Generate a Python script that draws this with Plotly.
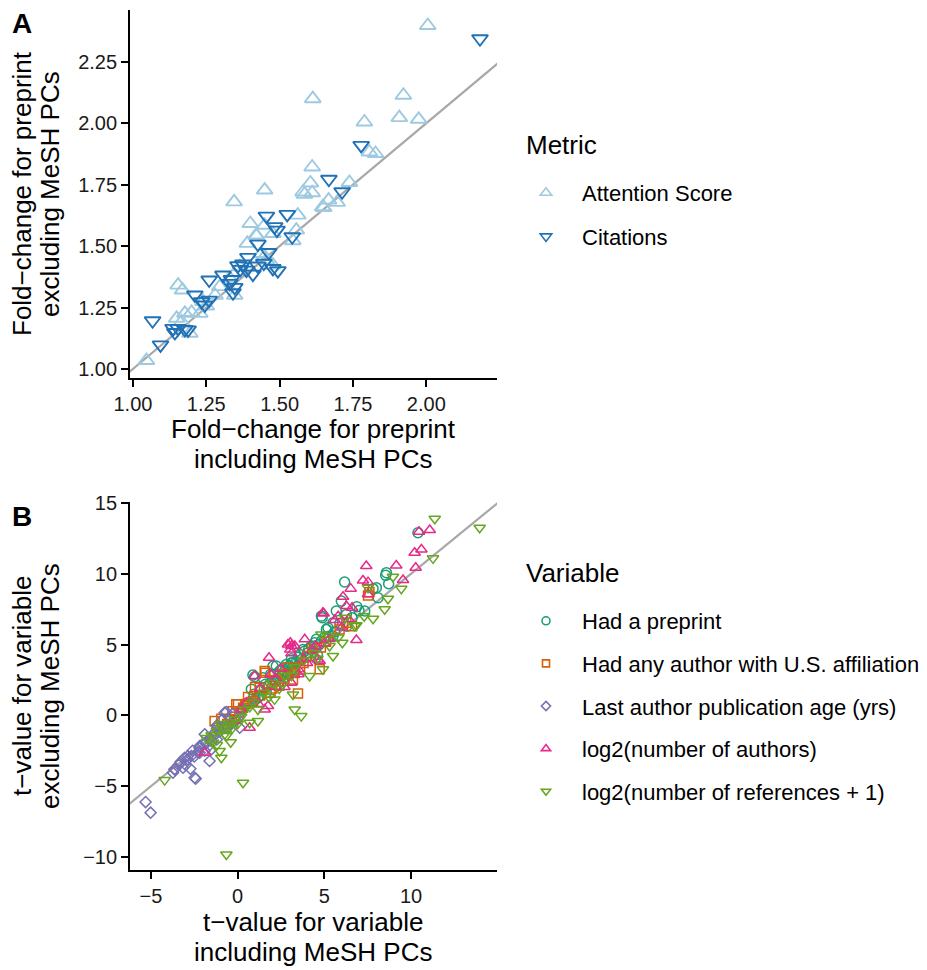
import plotly.graph_objects as go

# ---------------- Panel A data ----------------
attention_x = [2.005, 1.613, 1.922, 1.789, 1.908, 1.974, 1.806, 1.827, 1.611, 1.738,
               1.605, 1.585, 1.611, 1.667, 1.650, 1.696, 1.449, 1.345, 1.400, 1.562,
               1.449, 1.421, 1.477, 1.557, 1.545, 1.390, 1.438, 1.455, 1.477, 1.154,
               1.169, 1.296, 1.347, 1.177, 1.228, 1.250, 1.166, 1.194, 1.046, 1.330,
               1.364, 1.239, 1.149, 1.200, 1.280, 1.449, 1.580, 1.647, 1.420]
attention_y = [2.398, 2.100, 2.114, 2.005, 2.023, 2.016, 1.883, 1.877, 1.822, 1.759,
               1.757, 1.711, 1.717, 1.687, 1.657, 1.678, 1.728, 1.680, 1.592, 1.626,
               1.585, 1.541, 1.551, 1.565, 1.522, 1.511, 1.470, 1.443, 1.423, 1.341,
               1.321, 1.335, 1.300, 1.226, 1.226, 1.256, 1.192, 1.145, 1.034, 1.369,
               1.416, 1.274, 1.206, 1.230, 1.300, 1.457, 1.720, 1.660, 1.545]

citations_x = [2.183, 1.778, 1.668, 1.713, 1.455, 1.526, 1.483, 1.491, 1.543, 1.426,
               1.463, 1.392, 1.358, 1.366, 1.387, 1.409, 1.426, 1.446, 1.477, 1.494,
               1.307, 1.336, 1.347, 1.341, 1.260, 1.211, 1.234, 1.260, 1.245, 1.067,
               1.137, 1.154, 1.177, 1.188, 1.094, 1.143, 1.375, 1.330]
citations_y = [2.344, 1.910, 1.772, 1.721, 1.622, 1.629, 1.579, 1.565, 1.538, 1.508,
               1.474, 1.454, 1.420, 1.405, 1.402, 1.386, 1.419, 1.430, 1.409, 1.400,
               1.382, 1.364, 1.332, 1.310, 1.362, 1.301, 1.274, 1.280, 1.260, 1.196,
               1.165, 1.165, 1.161, 1.159, 1.098, 1.148, 1.427, 1.348]

# ---------------- Panel B data ----------------
preprint_x = [10.40, 8.58, 8.54, 8.71, 8.00, 7.81, 6.17, 5.98, 8.10, 6.88, 7.33, 5.69,
              4.88, 6.27, 5.50, 5.12, 4.54, 3.77, 2.04, 0.98, 0.79, 1.27, 2.42, 2.81,
              3.19, 4.06, 4.44, 4.83, 5.31, 1.46, 2.23, 3.10, 3.87, 4.25, 4.83, 5.21,
              5.50, 1.17, 1.75, 2.52, 3.29, 3.68, 4.44, 2.04, 1.65, 0.60, 0.88, 3.50,
              2.90, 1.90, 4.60, 3.95, 6.60, 5.90, 0.30, 1.00, 2.60, 3.10,
              0.40, 1.30, 1.60, 2.10, 2.70, 3.00, 3.40, 3.60, 4.10, 4.70, 5.00, 2.30,
              1.90, 3.30, 4.20, 0.95, 2.60, 5.60, 6.30, 7.00]
preprint_y = [12.90, 10.08, 9.89, 9.30, 9.02, 8.95, 9.42, 8.07, 8.31, 7.67, 7.37, 7.37,
              6.90, 7.13, 6.54, 6.07, 5.37, 4.66, 3.48, 2.73, 1.84, 1.37, 3.13, 3.60,
              3.72, 4.43, 4.90, 5.25, 5.60, 2.66, 3.48, 3.72, 4.54, 4.89, 7.01, 6.19,
              5.60, 1.25, 2.07, 2.78, 3.25, 3.95, 5.13, 2.42, 1.60, 0.90, 2.85, 4.10,
              3.00, 2.30, 4.30, 4.10, 6.90, 6.50, 0.50, 1.10, 3.30, 4.00,
              0.70, 1.80, 2.20, 2.90, 3.10, 3.50, 3.80, 4.30, 4.70, 5.00, 5.50, 2.60,
              2.90, 3.10, 4.20, 1.50, 2.40, 5.90, 6.30, 7.40]

us_x = [7.52, 1.60, 3.48, 0.02, -0.94, -1.33, 1.27, 3.19, 4.73, 6.27, 5.88, 2.62,
        0.31, -0.46, 1.56, 0.88, -0.08, 2.20, 1.00, 3.80, 4.30, 5.10, 2.90, 0.60,
        7.60, 6.60, -0.20, 1.90, 4.00, 2.40,
        0.10, 0.50, 1.30, 2.00, 2.70, 3.30, 3.60, -0.60, 4.80, -0.30]
us_y = [8.47, 3.01, 1.55, 0.78, -0.24, -0.40, 1.95, 2.54, 3.25, 6.54, 6.07, 2.90,
        0.54, -0.28, 3.13, 1.01, 0.78, 2.50, 2.00, 3.70, 4.70, 5.20, 3.40, 1.30,
        8.70, 6.30, -0.10, 1.60, 4.20, 2.10,
        0.20, 0.80, 1.40, 1.90, 2.60, 3.00, 3.40, -0.60, 4.80, 0.30]

age_x = [-5.31, -5.02, -2.42, -3.73, -3.63, -3.15, -2.73, -3.06, -2.67, -2.19, -1.62,
         -1.90, -1.23, -0.65, 0.12, -1.52, -2.87, -2.19, -3.64, -2.48, -1.14, -0.75,
         -1.52, -3.40, -2.90, -2.30, -1.80, -1.40, -1.00, -0.40, -0.90, -1.70, -2.00,
         -0.30, 0.30, -2.60, -1.20, -0.60,
         -3.30, -2.20, -1.60, -0.80, -0.10, -2.50, -1.90, -3.00, -1.30, 0.00]
age_y = [-6.12, -6.87, -4.47, -4.05, -3.81, -3.70, -3.77, -2.99, -2.87, -2.17, -3.22,
         -1.34, -0.75, 0.24, -0.87, -2.40, -2.87, -2.64, -3.81, -4.40, -0.75, 0.19,
         -1.81, -3.50, -3.10, -2.60, -1.90, -1.50, -1.10, -0.60, -0.30, -2.20, -2.00,
         0.10, 0.40, -2.50, -1.70, -0.90,
         -3.30, -2.30, -1.60, -0.80, -0.30, -2.90, -2.50, -3.50, -1.20, -0.20]

authors_x = [11.08, 10.46, 10.60, 10.21, 10.27, 9.15, 7.42, 9.54, 7.23, 7.52, 6.52,
             7.52, 6.08, 6.27, 4.96, 5.60, 6.85, 3.04, 3.04, 3.10, 1.81, 0.98, 1.75,
             0.69, -1.90, 4.73, 3.87, 4.92, 3.10, 4.63, 1.56, 0.21, 6.00, 5.30, 4.30,
             2.50, 2.20, 3.60, 1.30, 6.60, 5.80, 3.30, 2.70, 4.00,
             2.90, 3.10, 2.20, 0.50, 1.20, 3.80, 4.50, 5.00, -0.20, 1.90, 6.40, 3.50]
authors_y = [13.09, 12.97, 11.72, 11.49, 10.43, 10.59, 10.55, 9.56, 9.53, 9.41, 8.95,
             8.55, 8.38, 7.72, 7.20, 6.73, 5.32, 5.13, 4.66, 4.38, 4.07, 2.78, 0.66,
             -0.87, -2.64, 3.84, 5.37, 7.25, 2.31, 3.95, 0.42, 0.42, 6.20, 5.40, 4.60,
             3.30, 2.60, 3.10, 1.90, 7.60, 7.00, 4.90, 2.00, 3.70,
             5.00, 4.90, 2.00, 0.90, 0.80, 4.00, 4.90, 5.10, -0.40, 2.90, 6.80, 2.90]

refs_x = [11.37, 13.96, 11.27, 8.96, 9.44, 8.67, 8.48, 7.81, 7.52, 6.75, 6.04, 5.50,
          4.92, 4.15, 3.19, 3.29, 3.67, 0.31, -0.65, -4.21, -0.94, -1.04, 1.17, 0.69,
          -0.65, -1.42, 4.83, 2.13, 1.17, -0.56, -0.17, 0.40, -0.75, 6.85, 5.20, 4.40,
          3.30, 2.70, 2.00, 1.50, 0.90, -0.30, -1.20, -1.80, -1.00, 6.20, 2.40, 3.80,
          0.20, -0.30, -0.90, -1.50, 0.70, 1.80, 2.60, 3.10, 4.60, 5.30, -0.40, -1.20,
          0.00, 5.80, 7.30]
refs_y = [13.89, 13.25, 11.09, 9.79, 8.95, 8.24, 7.49, 6.83, 9.02, 6.31, 5.13, 4.19,
          3.25, 2.78, 1.48, 0.42, -0.05, -4.76, -9.82, -4.57, -2.99, -2.52, -0.40, -0.52,
          -1.46, -1.93, 5.72, 1.13, 0.42, -0.75, -0.28, 0.42, -1.34, 6.36, 5.60, 4.40,
          3.40, 2.80, 2.30, 1.60, 0.90, -0.90, -1.10, -1.60, -0.60, 6.90, 1.90, 3.90,
          -0.10, -0.50, -0.90, -1.40, 0.60, 1.30, 2.20, 2.80, 4.00, 4.90, -1.90, -2.10,
          -0.60, 5.50, 7.00]

FONT = "Liberation Sans, Arial, Helvetica, sans-serif"
OFF = 8            # page offset of the figure (body margin)
W, H = 927 - OFF, 970 - OFF


def px(x):
    return (x - OFF) / W


def py(y):
    return 1 - (y - OFF) / H


fig = go.Figure()

# identity lines
fig.add_trace(go.Scatter(x=[0.5, 3.0], y=[0.5, 3.0], mode="lines",
                         line=dict(color="#a8a8a8", width=2.2), showlegend=False,
                         hoverinfo="skip", xaxis="x", yaxis="y"))
fig.add_trace(go.Scatter(x=[-20, 20], y=[-20, 20], mode="lines",
                         line=dict(color="#a8a8a8", width=2.2), showlegend=False,
                         hoverinfo="skip", xaxis="x2", yaxis="y2"))

series = [
    # x, y, name, symbol, color, size, legend size, axes, legend, line width
    (attention_x, attention_y, "Attention Score", "triangle-up-open", "#9ecae1", 14, 10, "x", "y", "legend", 1.9),
    (citations_x, citations_y, "Citations", "triangle-down-open", "#2171b5", 14, 10, "x", "y", "legend", 1.9),
    (preprint_x, preprint_y, "Had a preprint", "circle-open", "#1b9e77", 10, 8, "x2", "y2", "legend2", 1.5),
    (us_x, us_y, "Had any author with U.S. affiliation", "square-open", "#d95f02", 9, 7, "x2", "y2", "legend2", 1.5),
    (age_x, age_y, "Last author publication age (yrs)", "diamond-open", "#7570b3", 8.5, 7, "x2", "y2", "legend2", 1.5),
    (authors_x, authors_y, "log2(number of authors)", "triangle-up-open", "#e7298a", 10, 8, "x2", "y2", "legend2", 1.5),
    (refs_x, refs_y, "log2(number of references + 1)", "triangle-down-open", "#66a61e", 10, 8, "x2", "y2", "legend2", 1.5),
]

for x, y, name, sym, col, size, lsize, xa, ya, leg, lw in series:
    fig.add_trace(go.Scatter(
        x=x, y=y, mode="markers", name=name, showlegend=False,
        marker=dict(symbol=sym, size=size, color=col, line=dict(color=col, width=lw)),
        xaxis=xa, yaxis=ya))
    # legend key (small symbol, as in the reference)
    fig.add_trace(go.Scatter(
        x=[None], y=[None], mode="markers", name=name, legend=leg, legendgroup=name,
        marker=dict(symbol=sym, size=lsize, color=col, line=dict(color=col, width=1.6)),
        xaxis=xa, yaxis=ya))

axis_common = dict(showline=True, linecolor="black", linewidth=1.8, ticks="outside",
                   ticklen=7, tickwidth=1.6, tickcolor="black", showgrid=False,
                   zeroline=False, tickfont=dict(family=FONT, size=20, color="#1a1a1a"),
                   mirror=False, automargin=False)

legend_common = dict(xanchor="left", yanchor="top", itemsizing="trace", itemwidth=62,
                     font=dict(family=FONT, size=22, color="black"),
                     bgcolor="rgba(0,0,0,0)", borderwidth=0)

fig.update_layout(
    width=W, height=H, margin=dict(l=0, r=0, t=0, b=0, autoexpand=False),
    paper_bgcolor="white", plot_bgcolor="white",
    font=dict(family=FONT, color="black"),
    xaxis=dict(domain=[px(130), px(497)], anchor="y", range=[0.99, 2.241],
               tickvals=[1.0, 1.25, 1.5, 1.75, 2.0], tickformat=".2f", **axis_common),
    yaxis=dict(domain=[py(378), py(10)], anchor="x", range=[0.963, 2.461],
               tickvals=[1.0, 1.25, 1.5, 1.75, 2.0, 2.25], tickformat=".2f", **axis_common),
    xaxis2=dict(domain=[px(130), px(497)], anchor="y2", range=[-6.21, 14.96],
                tickvals=[-5, 0, 5, 10], **axis_common),
    yaxis2=dict(domain=[py(870), py(502)], anchor="x2", range=[-10.92, 15.07],
                tickvals=[-10, -5, 0, 5, 10, 15], **axis_common),
    legend=dict(x=px(510), y=py(172), tracegroupgap=12, **legend_common),
    legend2=dict(x=px(510), y=py(600), tracegroupgap=11, **legend_common),
)

annots = [
    # text, x, y, size, angle, xanchor
    ("<b>A</b>", 22, 23, 28, 0, "center"),
    ("<b>B</b>", 22, 516, 28, 0, "center"),
    ("Metric", 524, 145, 26, 0, "left"),
    ("Variable", 524, 573, 26, 0, "left"),
    ("Fold−change for preprint", 313, 429, 26, 0, "center"),
    ("including MeSH PCs", 313, 459, 26, 0, "center"),
    ("Fold−change for preprint", 22, 194, 26, -90, "center"),
    ("excluding MeSH PCs", 50, 194, 26, -90, "center"),
    ("t−value for variable", 313, 922, 26, 0, "center"),
    ("including MeSH PCs", 313, 952, 26, 0, "center"),
    ("t−value for variable", 22, 686, 26, -90, "center"),
    ("excluding MeSH PCs", 50, 686, 26, -90, "center"),
]
for text, x, y, size, angle, xanc in annots:
    fig.add_annotation(text=text, x=px(x), y=py(y), xref="paper", yref="paper",
                       xanchor=xanc, yanchor="middle", showarrow=False,
                       textangle=angle,
                       font=dict(family=FONT, size=size, color="black"))

fig.write_html("out.html")
